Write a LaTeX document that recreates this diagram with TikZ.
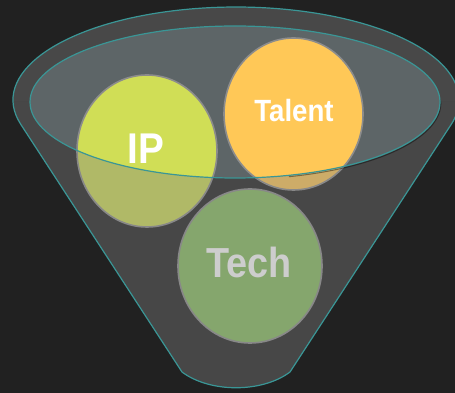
\documentclass[tikz,border=0pt]{standalone}
\usepackage{fontspec}
\usetikzlibrary{shapes.geometric}
\newfontfamily\lsans[FakeStretch=0.9]{Liberation Sans}
\definecolor{bgc}{HTML}{212121}
\definecolor{funnelc}{HTML}{484848}
\definecolor{innerc}{HTML}{5D6567}
\definecolor{tealc}{RGB}{58,150,150}
\definecolor{rimgray}{HTML}{8C8C8C}
\definecolor{ipc}{HTML}{D0DE56}
\definecolor{talc}{HTML}{FFC857}
\definecolor{techc}{RGB}{135,190,95}
\definecolor{veil}{RGB}{130,130,130}
\begin{document}
\begin{tikzpicture}[x=1pt,y=1pt,
  funnelshape/.style={insert path={(182,21) -- (20.8,268.6) arc[start angle=195.19, end angle=-15.19, x radius=223, y radius=93] -- (290,21) .. controls (262,0) and (210,0) .. (182,21) -- cycle}},
  frontshape/.style={insert path={(0,291) -- (30,291) arc[start angle=180, end angle=360, x radius=205, y radius=76] -- (455,291) -- (455,0) -- (0,0) -- cycle}},
  ball/.style={ellipse, draw=rimgray, line width=1.6pt, inner sep=0pt},
  lbl/.style={text=white, anchor=base, inner sep=0pt},
  rimline/.style={draw=tealc, line width=1.2pt}
]
\useasboundingbox (0,0) rectangle (455,393);
\fill[bgc] (0,0) rectangle (455,393);
% funnel body
\fill[funnelc, funnelshape];
\begin{scope}
  \clip[funnelshape];
  \fill[bgc, frontshape];
\end{scope}
% opening
\fill[innerc] (235,291) ellipse [x radius=205, y radius=76];
% balls
\node[ball, fill=ipc, minimum width=140, minimum height=152] (ip) at (147,242) {};
\node[ball, fill=talc, minimum width=139, minimum height=152] (talent) at (293.5,279) {};
\node[ball, fill=techc, minimum width=144, minimum height=154] (tech) at (250,127) {};
% labels
\node[lbl, font=\lsans\bfseries\fontsize{43}{43}\selectfont] (tip) at (146,229.7) {IP};
\node[lbl, font=\lsans\bfseries\fontsize{30.7}{30.7}\selectfont] (ttalent) at (294,271) {Talent};
\node[lbl, font=\lsans\bfseries\fontsize{42}{42}\selectfont] (ttech) at (249,115) {Tech};
% front veil of the funnel
\begin{scope}
  \clip[funnelshape];
  \fill[veil, opacity=.4, frontshape];
\end{scope}
% outlines
\path[rimline, funnelshape];
\begin{scope}[shift={(0.8,-1.3)}]
  \draw[black, opacity=.4, line width=1pt] (235,291) ++(285:205 and 76) arc[start angle=285, end angle=362, x radius=205, y radius=76];
\end{scope}
\path[rimline] (235,291) ellipse [x radius=205, y radius=76];
\end{tikzpicture}
\end{document}
